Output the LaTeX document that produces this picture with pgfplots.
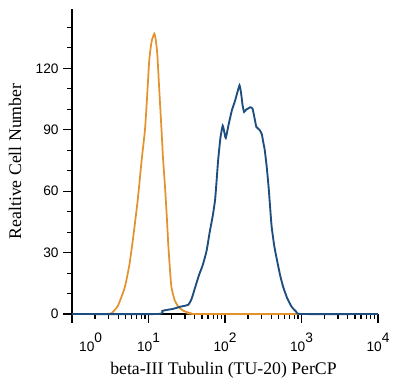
\documentclass[border=0pt]{standalone}
\usepackage{pgfplots}
\pgfplotsset{compat=1.18}
\usepackage{fontspec}
\setmainfont{Liberation Serif}
\newfontfamily\tickfont{Liberation Sans}
\definecolor{isoorange}{HTML}{E3922E}
\definecolor{cellblue}{HTML}{1D4E7E}
\pgfplotstableread{
x y
0.00 0
0.45 0
0.52 0.5
0.60 4
0.69 13
0.75 24
0.80 37.5
0.86 56
0.91 75
0.954 90
0.98 105
1.01 124
1.04 133
1.076 137
1.095 134
1.115 127
1.14 110
1.17 90
1.19 76
1.216 62
1.24 47
1.26 33
1.28 22
1.30 13
1.34 7
1.39 3.5
1.46 1.5
1.54 0.5
1.65 0
4.00 0
}\isotype
\pgfplotstableread{
x y
0.00 0
1.12 0
1.18 1.5
1.24 2
1.32 2.5
1.41 3.5
1.47 4
1.52 4.5
1.56 7
1.61 13
1.66 19
1.71 24
1.76 31
1.80 40
1.84 48
1.87 55.6
1.89 65
1.91 75
1.94 86
1.97 92
1.99 89
2.01 86
2.05 93
2.09 99.5
2.13 104
2.16 108
2.19 111.7
2.21 108
2.23 102
2.25 98.7
2.28 100
2.30 100.3
2.33 101
2.36 100.3
2.39 95
2.41 91.4
2.45 90
2.48 88
2.50 84
2.52 80
2.545 72
2.57 62
2.59 52
2.61 42.6
2.645 33
2.68 26.3
2.72 19
2.76 13.3
2.81 8
2.87 3.6
2.93 1.2
3.00 0
4.00 0
}\cells
\begin{document}
\begin{tikzpicture}
\useasboundingbox (-54pt,-54pt) rectangle (246pt,235.5pt);
\begin{axis}[
  at={(0,0)}, anchor=south west,
  scale only axis,
  width=229.5pt, height=228.75pt,
  xmin=0, xmax=4, ymin=0, ymax=149,
  axis x line=bottom, axis y line=left,
  axis line style={-, line width=1pt, black},
  tick align=outside,
  x tick style={black, line width=0.8pt},
  y tick style={black, line width=0.8pt},
  xtick={0,1,2,3,4},
  xticklabels={{\hspace*{28pt}10\raisebox{0.7em}{0}},{10\raisebox{0.7em}{1}},{10\raisebox{0.7em}{2}},{10\raisebox{0.7em}{3}},{10\raisebox{0.7em}{4}}},
  minor xtick={0.301,0.477,0.602,0.699,0.778,0.845,0.903,0.954,
    1.301,1.477,1.602,1.699,1.778,1.845,1.903,1.954,
    2.301,2.477,2.602,2.699,2.778,2.845,2.903,2.954,
    3.301,3.477,3.602,3.699,3.778,3.845,3.903,3.954},
  ytick={0,30,60,90,120},
  minor ytick={10,20,40,50,70,80,100,110,130,140},
  /pgf/number format/assume math mode=true,
  tick label style={font=\tickfont\fontsize{10.3pt}{12pt}\selectfont},
  major tick length=6.5pt, minor tick length=3.5pt,
  yticklabel style={xshift=0pt},
  xticklabel style={yshift=-4pt},
  xlabel={beta-III Tubulin (TU-20) PerCP},
  ylabel={Realtive Cell Number},
  label style={font=\fontsize{13.3pt}{15pt}\selectfont},
  xlabel style={at={(axis description cs:0.495,-0.184)}, anchor=center},
  ylabel style={at={(axis description cs:-0.186,0.5)}, anchor=center},
  clip=false,
]
\addplot[isoorange, line width=1.3pt, smooth, tension=0.3] table[x=x,y=y] {\isotype};
\addplot[cellblue, line width=1.4pt, smooth, tension=0.3] table[x=x,y=y] {\cells};
\end{axis}
\end{tikzpicture}
\end{document}
